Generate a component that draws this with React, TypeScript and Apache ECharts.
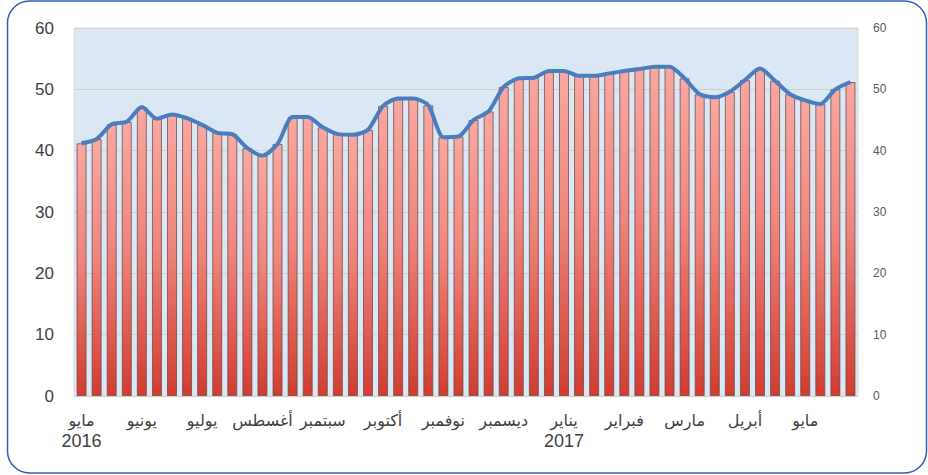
import React, { useEffect, useRef } from "react";
import * as echarts from "echarts";

const monthLabels = ["مايو", "يونيو", "يوليو", "أغسطس", "سبتمبر", "أكتوبر", "نوفمبر", "ديسمبر", "يناير", "فبراير", "مارس", "أبريل", "مايو"];
const yearLabels: Record<number, string> = { 0: "2016", 32: "2017" };
const values = [
  41.2, 41.9, 44.3, 44.7, 47.1, 45.2, 45.9, 45.3, 44.2, 42.9, 42.7, 40.4, 39.2,
  41.1, 45.5, 45.5, 43.8, 42.7, 42.6, 43.4, 47.3, 48.5, 48.5, 47.4, 42.2, 42.3,
  45.0, 46.4, 50.4, 51.8, 51.9, 53.0, 53.0, 52.2, 52.2, 52.6, 53.0, 53.3, 53.7,
  53.7, 51.8, 49.2, 48.7, 49.6, 51.5, 53.4, 51.4, 49.2, 48.2, 47.6, 50.0, 51.2,
];
const categories = values.map((_, i) => "w" + (i + 1));

export default function App() {
  const ref = useRef<HTMLDivElement>(null);
  useEffect(() => {
    if (!ref.current) return;
    const chart = echarts.init(ref.current, null, { renderer: "svg" });
    const font = "'Liberation Sans', Arial, 'DejaVu Sans', sans-serif";
    chart.setOption({
      animation: false,
      backgroundColor: "#ffffff",
      graphic: [
        {
          type: "rect",
          shape: { x: 7.5, y: 1, width: 919, height: 472, r: 22 },
          style: { fill: "none", stroke: "#2f5fb6", lineWidth: 1.5 },
          z: 100,
        },
      ],
      grid: {
        left: 74,
        right: 70,
        top: 28,
        bottom: 79,
        show: true,
        backgroundColor: "#dae8f6",
        borderColor: "#dcdcdc",
        borderWidth: 1,
      },
      xAxis: {
        type: "category",
        data: categories,
        axisLine: { show: false },
        axisTick: { show: false },
        axisLabel: {
          interval: (i: number) => i % 4 === 0,
          margin: 14,
          color: "#404040",
          fontFamily: font,
          formatter: (_v: string, i: number) => {
            const m = monthLabels[i / 4] ?? "";
            const y = yearLabels[i];
            return y ? "{m|" + m + "}\n{y|" + y + "}" : "{m|" + m + "}";
          },
          rich: {
            m: { fontSize: 16, lineHeight: 20, color: "#404040", fontFamily: font },
            y: { fontSize: 18, lineHeight: 22, color: "#404040", fontFamily: font },
          },
        },
      },
      yAxis: [
        {
          type: "value",
          min: 0,
          max: 60,
          interval: 10,
          axisLine: { show: false },
          axisTick: { show: false },
          axisLabel: { fontSize: 17, color: "#404040", margin: 20, fontFamily: font },
          splitLine: { lineStyle: { color: "#d7cdc6", width: 1 } },
        },
        {
          type: "value",
          min: 0,
          max: 60,
          interval: 10,
          position: "right",
          axisLine: { show: false },
          axisTick: { show: false },
          axisLabel: { fontSize: 12, color: "#595959", margin: 15, fontFamily: font },
          splitLine: { show: false },
        },
      ],
      series: [
        {
          type: "bar",
          data: values,
          barWidth: 10,
          itemStyle: {
            color: new echarts.graphic.LinearGradient(0, 0, 0, 1, [
              { offset: 0, color: "#f9a8a1" },
              { offset: 0.45, color: "#ef867e" },
              { offset: 1, color: "#d23c30" },
            ]),
            borderColor: "rgba(110,70,65,0.75)",
            borderWidth: 1,
          },
        },
        {
          type: "line",
          data: values,
          yAxisIndex: 0,
          smooth: 0.25,
          symbol: "none",
          lineStyle: { color: "#4a7dbd", width: 4 },
          z: 5,
        },
      ],
    });
    return () => chart.dispose();
  }, []);
  return <div ref={ref} style={{ position: "fixed", left: 0, top: 0, width: 928, height: 475 }} />;
}
